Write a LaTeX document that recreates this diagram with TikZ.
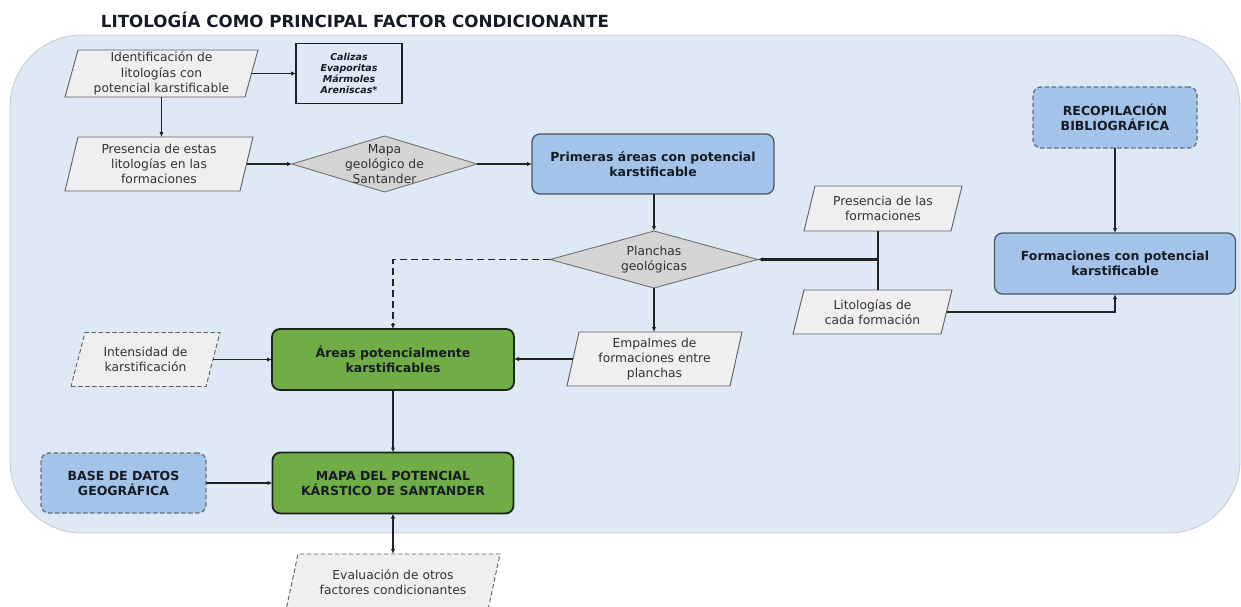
\documentclass[tikz,border=0pt]{standalone}
\usepackage{fontspec}
\setmainfont{DejaVu Sans}[BoldFont={DejaVu Sans Bold},ItalicFont={DejaVu Sans Oblique},BoldItalicFont={DejaVu Sans Bold Oblique}]
\usetikzlibrary{shapes.geometric,arrows.meta,calc}
\pgfdeclarelayer{panel}
\pgfdeclarelayer{shapes}
\pgfsetlayers{panel,shapes,main}
\definecolor{panelfill}{RGB}{222,233,245}
\definecolor{panelline}{RGB}{196,202,210}
\definecolor{parafill}{RGB}{239,239,239}
\definecolor{paraline}{RGB}{95,95,95}
\definecolor{diamfill}{RGB}{212,212,212}
\definecolor{diamline}{RGB}{115,115,115}
\definecolor{bluefill}{RGB}{163,196,232}
\definecolor{blueline}{RGB}{72,86,102}
\definecolor{greenfill}{RGB}{112,173,71}
\definecolor{greenline}{RGB}{28,36,24}
\definecolor{txtgray}{RGB}{50,50,50}
\definecolor{txtdark}{RGB}{22,26,36}
\definecolor{lincol}{RGB}{35,35,35}
\tikzset{
  basenode/.style={inner sep=0pt, outer sep=0pt, align=center},
  ptxt/.style={basenode, text=txtgray, font=\fontsize{12.3}{15.3}\selectfont},
  btxt/.style={basenode, text=txtdark, font=\bfseries\fontsize{12.5}{15}\selectfont},
  bluebox/.style={btxt, draw=blueline, line width=1.3pt, fill=bluefill, rounded corners=8pt},
  greenbox/.style={btxt, draw=greenline, line width=1.8pt, fill=greenfill, rounded corners=8pt},
  dashbox/.style={dash pattern=on 4.5pt off 2.5pt},
  diam/.style={diamond, draw=diamline, line width=0.9pt, fill=diamfill, inner sep=0pt, outer sep=0pt},
  parashape/.style={draw=paraline, line width=0.9pt, fill=parafill},
  conn/.style={draw=lincol, line width=1.5pt},
  arr/.style={conn, -{Latex[length=5pt,width=4.5pt]}},
  dasharr/.style={arr, dash pattern=on 7pt off 4pt},
}
\newcommand\parabg[3][]{%
  \begin{pgfonlayer}{shapes}
  \path[parashape,#1] (#2.south west) -- ([xshift=-#3pt]#2.south east) -- (#2.north east) -- ([xshift=#3pt]#2.north west) -- cycle;
  \end{pgfonlayer}}
\begin{document}
\begin{tikzpicture}[x=1pt,y=-1pt]
\useasboundingbox (0,0) rectangle (1241,606);
\begin{pgfonlayer}{panel}
\path[draw=panelline, line width=0.8pt, fill=panelfill, rounded corners=72pt] (10,35) rectangle (1240,533);
\end{pgfonlayer}

\node[basenode, font=\bfseries\fontsize{16.7}{20}\selectfont, text=txtdark] (title) at (355,20) {LITOLOGÍA COMO PRINCIPAL FACTOR CONDICIONANTE};

\node[ptxt, minimum width=193pt, minimum height=47pt] (ident) at (161.5,73.5) {Identificación de\\litologías con\\potencial karstificable};
\parabg{ident}{13}
\node[basenode, draw=black!88, line width=1.8pt, text=txtdark, font=\bfseries\itshape\fontsize{9.5}{11}\selectfont, minimum width=106pt, minimum height=60pt] (cal) at (349,73.5) {Calizas\\Evaporitas\\Mármoles\\Areniscas*};

\node[ptxt, minimum width=188pt, minimum height=54pt] (presE) at (159,164) {Presencia de estas\\litologías en las\\formaciones};
\parabg{presE}{13}
\node[diam, minimum width=185pt, minimum height=56pt] (mapa) at (384.5,164) {};
\node[ptxt] (mapaT) at (mapa.center) {Mapa\\geológico de\\Santander};
\node[bluebox, minimum width=242pt, minimum height=60pt] (prim) at (653,164) {Primeras áreas con potencial\\karstificable};

\node[bluebox, dashbox, draw=blueline!85, minimum width=164pt, minimum height=61pt] (recop) at (1115,117.5) {RECOPILACIÓN\\BIBLIOGRÁFICA};
\node[bluebox, minimum width=241pt, minimum height=61pt] (form) at (1115,263.5) {Formaciones con potencial\\karstificable};
\node[ptxt, minimum width=158pt, minimum height=45pt] (presL) at (883,208.5) {Presencia de las\\formaciones};
\parabg{presL}{11}
\node[ptxt, minimum width=159pt, minimum height=44pt] (litol) at (872.5,312) {Litologías de\\cada formación};
\parabg{litol}{11}

\node[diam, minimum width=208pt, minimum height=57pt] (plan) at (654,259.5) {};
\node[ptxt] (planT) at (plan.center) {Planchas\\geológicas};
\node[ptxt, minimum width=175pt, minimum height=54pt] (empal) at (654.5,359) {Empalmes de\\formaciones entre\\planchas};
\parabg{empal}{12}

\node[greenbox, minimum width=242pt, minimum height=61pt] (areas) at (393,359.5) {Áreas potencialmente\\karstificables};
\node[ptxt, minimum width=149pt, minimum height=54pt] (intens) at (145.5,359.5) {Intensidad de\\karstificación};
\parabg[dashbox]{intens}{14}
\node[bluebox, dashbox, draw=blueline!85, minimum width=165pt, minimum height=60pt] (bdg) at (123.5,483) {BASE DE DATOS\\GEOGRÁFICA};
\node[greenbox, minimum width=241pt, minimum height=61pt] (mapk) at (393,483) {MAPA DEL POTENCIAL\\KÁRSTICO DE SANTANDER};
\node[ptxt, minimum width=214pt, minimum height=56pt] (eval) at (393,582) {Evaluación de otros\\factores condicionantes};
\parabg[dashbox]{eval}{12}

% connectors
\draw[arr] ([xshift=-6.5pt]ident.east) -- (cal.west);
\draw[arr] (ident.south) -- (ident.south |- presE.north);
\draw[arr] ([xshift=-6.5pt]presE.east) -- (mapa.west);
\draw[arr] (mapa.east) -- (prim.west);
\draw[arr] (prim.south -| plan.north) -- (plan.north);
\draw[arr] (plan.south) -- (plan.south |- empal.north);
\draw[arr] ([xshift=6pt]empal.west) -- (areas.east |- empal.west);
\draw[dasharr] (plan.west) -| (areas.north);
\coordinate (jn) at (878,259.5);
\draw[conn] (jn |- presL.south) -- (jn |- litol.north);
\draw[arr, line width=2.4pt] (jn) -- (plan.east);
\draw[arr] ([xshift=-5.5pt]litol.east) -| (form.south);
\draw[arr] (recop.south) -- (form.north);
\draw[arr] ([xshift=-7pt]intens.east) -- (areas.west);
\draw[arr] (areas.south) -- (mapk.north);
\draw[arr] (bdg.east) -- (mapk.west);
\draw[conn, {Latex[length=5pt,width=4.5pt]}-{Latex[length=5pt,width=4.5pt]}] (mapk.south) -- (eval.north);
\end{tikzpicture}
\end{document}
